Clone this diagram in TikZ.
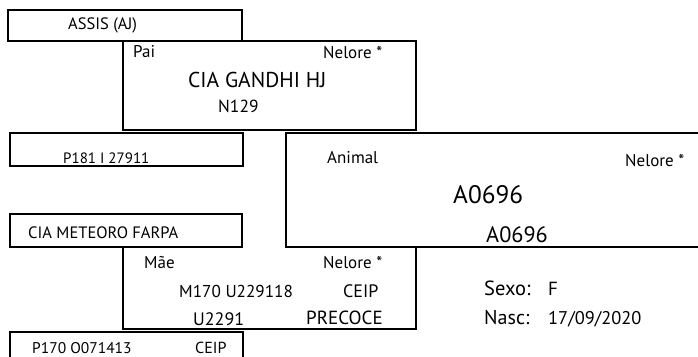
\documentclass[tikz,border=0pt]{standalone}
\usepackage{fontspec}
\setmainfont{PT Sans}
\newcommand{\fsz}[1]{\fontsize{#1}{#1}\selectfont}
\begin{document}
\begin{tikzpicture}[x=1pt,y=-1pt,
  box/.style={draw=black,line width=1.4pt},
  txt/.style={inner sep=0pt,anchor=base west,text=black},
  small/.style={txt,font=\fsz{17}},
  mid/.style={txt,font=\fsz{16.5}},
  big/.style={txt,font=\fsz{18}}]
\useasboundingbox[fill=white] (0,0) rectangle (698,356);
% boxes
\draw[box] (8,10) rectangle (242,41);
\draw[box] (242,41) -- (416,41) -- (416,130) -- (123,130) -- (123,41);
\draw[box] (10,133) rectangle (243,166);
\draw[box] (700,133) -| (286,247) -- (700,247);
\draw[box] (10,214) rectangle (242,247);
\draw[box] (123,247) -- (123,329) -- (416,329) -- (416,247);
\draw[box] (10,360) |- (243,332) -- (243,360);
% texts
\node[mid] (assis) at (68,29) {ASSIS (AJ)};
\node[small] (pai) at (133,57) {Pai};
\node[small] (paiRaca) at (323,58) {Nelore *};
\node[txt,font=\fsz{21.5}] (paiNome) at (188,87) {CIA GANDHI HJ};
\node[txt,font=\fsz{17.5}] (paiReg) at (218,112) {N129};
\node[txt,font=\fsz{15}] (avoPP) at (63,163) {P181 I 27911};
\node[small] (animal) at (327,163) {Animal};
\node[small] (animalRaca) at (625,166) {Nelore *};
\node[txt,font=\fsz{25.3}] (animalNome) at (453,203) {A0696};
\node[txt,font=\fsz{22.3}] (animalReg) at (486,242) {A0696};
\node[mid] (avoMP) at (28,238) {CIA METEORO FARPA};
\node[small] (mae) at (144,268) {Mãe};
\node[small] (maeRaca) at (323,268) {Nelore *};
\node[txt,font=\fsz{17.2}] (maeNome) at (179,297) {M170 U229118};
\node[big] (maeCeip) at (343,297) {CEIP};
\node[big] (maeReg) at (193,325) {U2291};
\node[txt,font=\fsz{19}] (maePrec) at (306,324) {PRECOCE};
\node[txt,font=\fsz{20.5}] (sexo) at (484,295) {Sexo:};
\node[txt,font=\fsz{19}] (sexoV) at (548,295) {F};
\node[txt,font=\fsz{20}] (nasc) at (484,324) {Nasc:};
\node[txt,font=\fsz{18.4}] (nascV) at (548,324) {17/09/2020};
\node[txt,font=\fsz{15.5}] (avoMM) at (32,353) {P170 O071413};
\node[txt,font=\fsz{16}] (avoMMc) at (195,353) {CEIP};
\end{tikzpicture}
\end{document}
